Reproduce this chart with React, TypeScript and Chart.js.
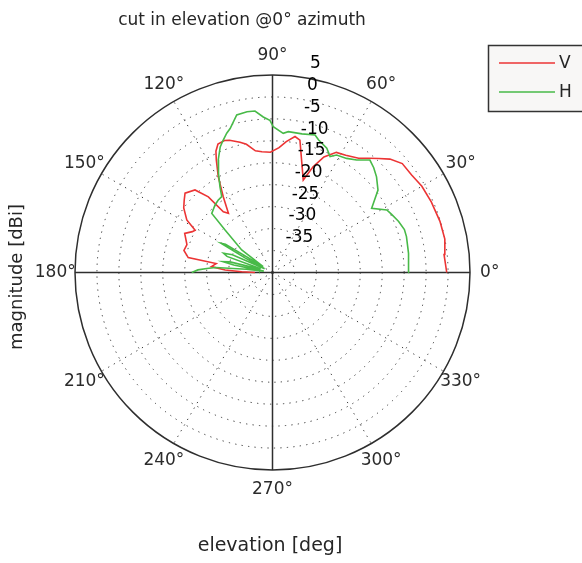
import React, { useEffect, useRef } from "react";
import { Chart, registerables } from "chart.js";

Chart.register(...registerables);

const TITLE = "cut in elevation @0° azimuth";
const X_LABEL = "elevation [deg]";
const Y_LABEL = "magnitude [dBi]";
const SERIES_NAMES = ["V", "H"];
const SERIES_COLORS = ["rgb(236,52,52)", "rgb(72,186,72)"];

const RADIAL_MIN = -40;
const RADIAL_MAX = 5;
const RADIAL_TICKS = [5, 0, -5, -10, -15, -20, -25, -30, -35];
const ANGLE_TICKS = [0, 30, 60, 90, 120, 150, 180, 210, 240, 270, 300, 330];

const V_ANGLES = [
  0, 6, 11, 17, 24, 30, 35, 40, 44, 47, 50, 53, 58, 62, 66, 69, 71.6, 78.3, 80.6, 84,
  87, 91, 95, 98, 101.5, 104, 108, 110, 113, 115, 116.5, 119.5, 123, 126.7, 129, 130.3,
  133.2, 137.8, 140.7, 144, 148.5, 151.3, 153, 156, 162, 166, 170, 171, 174.5, 177,
  178.5, 180,
];
const V_MAGS = [
  -0.3, -0.7, 0, -0.1, -0.4, -0.7, -1.3, -1.4, -2.8, -4.5, -6, -7.4, -8.5, -9, -11.2,
  -14.2, -17.8, -9.2, -8.6, -10, -11.5, -12.6, -12.4, -12, -10.2, -9.4, -8.3, -8, -8.2,
  -9.5, -11.3, -14.9, -19.4, -23.2, -22.2, -17.4, -14.2, -13.1, -14, -15, -17.1, -19.9,
  -19.5, -18.1, -19.5, -19.2, -20.5, -27, -26, -29.2, -33, -36,
];

const H_ANGLES = [
  0, 8, 15, 18, 22, 26, 28.7, 32.9, 34.5, 38, 42.6, 46, 49.1, 53.2, 57, 61.4, 63.6, 66.4,
  70.9, 72.8, 78, 83.6, 85.6, 89.7, 91, 93.4, 96.2, 99, 102.8, 106.4, 108.2, 110.4, 112.6,
  115.7, 118.6, 121.5, 123.8, 127, 130.4, 135.8, 138.2, 143.8, 147.8, 149, 150.5, 152,
  154, 156, 158.5, 160.5, 162, 164.5, 166, 167.6, 169, 171, 173, 175, 176.5, 178, 180,
];
const H_MAGS = [
  -9.1, -8.7, -8.4, -8.4, -9, -9.8, -10.3, -13.1, -12.1, -9.5, -7.8, -6.8, -6.1, -8, -9,
  -9.5, -10.5, -9.1, -8, -7.2, -7.7, -7.7, -8.2, -6.8, -5.3, -4.5, -3, -2.9, -3.2, -5.8,
  -6.6, -7.8, -9, -11.5, -14.3, -17.1, -19.2, -19.4, -19.8, -20.7, -25.5, -31.3, -37.5,
  -27.5, -26.5, -33, -38, -30, -28, -29, -37, -37, -30, -28.5, -31, -38, -34, -27, -25,
  -23, -21.6,
];

const FONT = "DejaVu Sans";

function toXY(angles: number[], mags: number[]) {
  return angles.map((a, i) => {
    const r = Math.max(0, mags[i] - RADIAL_MIN);
    const t = (a * Math.PI) / 180;
    return { x: r * Math.cos(t), y: r * Math.sin(t) };
  });
}

function geom(chart: any) {
  const xs = chart.scales.x;
  const ys = chart.scales.y;
  const cx = xs.getPixelForValue(0);
  const cy = ys.getPixelForValue(0);
  const k = xs.getPixelForValue(1) - cx;
  const R = (RADIAL_MAX - RADIAL_MIN) * k;
  return { cx, cy, k, R };
}

const polarPlugin = {
  id: "polarGrid",
  beforeDatasetsDraw(chart: any) {
    const ctx = chart.ctx;
    const { cx, cy, k, R } = geom(chart);
    ctx.save();
    ctx.strokeStyle = "#3a3a3a";
    ctx.lineWidth = 1;
    ctx.setLineDash([1.3, 5.2]);
    RADIAL_TICKS.forEach((t) => {
      if (t >= RADIAL_MAX) return;
      const r = (t - RADIAL_MIN) * k;
      ctx.beginPath();
      ctx.arc(cx, cy, r, 0, Math.PI * 2);
      ctx.stroke();
    });
    ANGLE_TICKS.forEach((a) => {
      if (a % 90 === 0) return;
      const t = (a * Math.PI) / 180;
      ctx.beginPath();
      ctx.moveTo(cx, cy);
      ctx.lineTo(cx + R * Math.cos(t), cy - R * Math.sin(t));
      ctx.stroke();
    });
    ctx.setLineDash([]);
    ctx.strokeStyle = "#2e2e2e";
    ctx.lineWidth = 1.5;
    ctx.beginPath();
    ctx.moveTo(cx - R, cy);
    ctx.lineTo(cx + R, cy);
    ctx.moveTo(cx, cy - R);
    ctx.lineTo(cx, cy + R);
    ctx.stroke();
    ctx.beginPath();
    ctx.arc(cx, cy, R, 0, Math.PI * 2);
    ctx.stroke();
    ctx.restore();
  },
  afterDatasetsDraw(chart: any) {
    const ctx = chart.ctx;
    const { cx, cy, k, R } = geom(chart);
    ctx.save();
    ctx.font = `17px "${FONT}"`;
    ctx.fillStyle = "#2b2b2b";
    ctx.textAlign = "center";
    ctx.textBaseline = "middle";
    ANGLE_TICKS.forEach((a) => {
      const t = (a * Math.PI) / 180;
      const rr = R * 1.1;
      ctx.fillText(`${a}°`, cx + rr * Math.cos(t), cy - rr * Math.sin(t));
    });
    ctx.fillStyle = "#000";
    ctx.textAlign = "left";
    const c82 = (82 * Math.PI) / 180;
    RADIAL_TICKS.forEach((t) => {
      const r = (t - RADIAL_MIN) * k;
      ctx.fillText(`${t}`, cx + r * Math.cos(c82) + 10, cy - r * Math.sin(c82) - 13);
    });
    ctx.restore();
  },
  afterDraw(chart: any) {
    const ctx = chart.ctx;
    ctx.save();
    ctx.fillStyle = "#262626";
    ctx.textAlign = "center";
    ctx.textBaseline = "middle";
    ctx.font = `17px "${FONT}"`;
    ctx.fillText(TITLE, 242, 21);
    ctx.font = `19px "${FONT}"`;
    ctx.fillText(X_LABEL, 270, 546);
    ctx.font = `18px "${FONT}"`;
    ctx.save();
    ctx.translate(17.5, 277);
    ctx.rotate(-Math.PI / 2);
    ctx.fillText(Y_LABEL, 0, 0);
    ctx.restore();
    ctx.font = `17px "${FONT}"`;
    ctx.fillStyle = "#f8f7f6";
    ctx.strokeStyle = "#333";
    ctx.lineWidth = 1.5;
    ctx.fillRect(488.5, 45.5, 110, 66);
    ctx.strokeRect(488.5, 45.5, 110, 66);
    const ds = chart.data.datasets;
    ds.forEach((d: any, i: number) => {
      const y = 63 + i * 29;
      ctx.strokeStyle = d.borderColor;
      ctx.lineWidth = 1.5;
      ctx.beginPath();
      ctx.moveTo(499, y);
      ctx.lineTo(555, y);
      ctx.stroke();
      ctx.fillStyle = "#262626";
      ctx.textAlign = "left";
      ctx.fillText(d.label, 559, y + 1);
    });
    ctx.restore();
  },
};

export default function App() {
  const ref = useRef<HTMLCanvasElement | null>(null);
  useEffect(() => {
    if (!ref.current) return;
    const chart = new Chart(ref.current, {
      type: "scatter",
      data: {
        datasets: [
          {
            label: SERIES_NAMES[0],
            data: toXY(V_ANGLES, V_MAGS),
            borderColor: SERIES_COLORS[0],
            backgroundColor: SERIES_COLORS[0],
            showLine: true,
            pointRadius: 0,
            borderWidth: 1.6,
            order: 1,
          },
          {
            label: SERIES_NAMES[1],
            data: toXY(H_ANGLES, H_MAGS),
            borderColor: SERIES_COLORS[1],
            backgroundColor: SERIES_COLORS[1],
            showLine: true,
            pointRadius: 0,
            borderWidth: 1.6,
            order: 0,
          },
        ],
      },
      options: {
        responsive: false,
        maintainAspectRatio: false,
        animation: false,
        devicePixelRatio: 1,
        layout: { padding: { left: 75, top: 75, right: 112, bottom: 93 } },
        scales: {
          x: { type: "linear", min: -45, max: 45, display: false },
          y: { type: "linear", min: -45, max: 45, display: false },
        },
        plugins: {
          legend: { display: false },
          tooltip: { enabled: false },
          title: { display: false },
        },
      },
      plugins: [polarPlugin],
    });
    return () => chart.destroy();
  }, []);
  return (
    <div style={{ position: "absolute", left: 0, top: 0, width: 582, height: 563, background: "#fff" }}>
      <canvas ref={ref} width={582} height={563} style={{ display: "block" }} />
    </div>
  );
}
